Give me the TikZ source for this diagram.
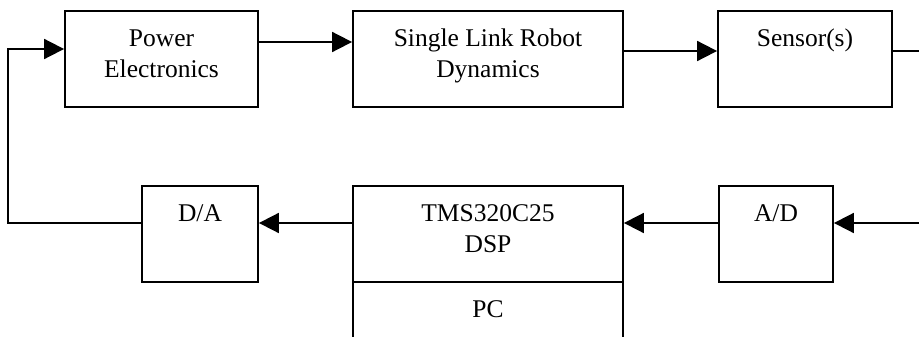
\documentclass[tikz,border=0pt]{standalone}
\usepackage{fontspec}
\setmainfont{Liberation Serif}
\usetikzlibrary{arrows.meta}
\newcommand{\txtlines}[1]{\begin{tabular}[t]{@{}c@{}}#1\end{tabular}}
\begin{document}
\begin{tikzpicture}[x=1pt,y=-1pt,
  blk/.style={draw, line width=1.8pt, minimum height=96pt, inner sep=0pt},
  lbl/.style={anchor=base, inner sep=0pt, font=\fontsize{25.5}{31}\selectfont},
  conn/.style={line width=1.8pt},
  arr/.style={conn, -{Triangle[length=20pt,width=20pt]}}]
\useasboundingbox (0,0) rectangle (919,337);
\clip (0,0) rectangle (919,337);
% blocks
\node[blk, minimum width=193pt] (pe) at (161.5,59) {};
\node[blk, minimum width=270pt] (robot) at (488,59) {};
\node[blk, minimum width=174pt] (sensor) at (805,59) {};
\node[blk, minimum width=116pt] (da) at (200,234) {};
\node[blk, minimum width=270pt] (tms) at (488,234) {};
\node[blk, minimum width=114pt] (ad) at (776,234) {};
\node[blk, minimum width=270pt] (pc) at (488,330) {};
% labels
\node[lbl] (pet) at ([yshift=-36pt]pe.north) {\txtlines{Power\\Electronics}};
\node[lbl] (robott) at ([yshift=-36pt]robot.north) {\txtlines{Single Link Robot\\Dynamics}};
\node[lbl] (sensort) at ([yshift=-36pt]sensor.north) {Sensor(s)};
\node[lbl] (dat) at ([yshift=-36pt]da.north) {D/A};
\node[lbl] (tmst) at ([yshift=-36pt]tms.north) {\txtlines{TMS320C25\\DSP}};
\node[lbl] (adt) at ([yshift=-36pt]ad.north) {A/D};
\node[lbl] (pct) at ([yshift=-36pt]pc.north) {PC};
% free ends
\coordinate (sout) at (919,51);
\coordinate (adin) at (919,223);
\coordinate (c1) at (8,223);
\coordinate (c2) at (8,49);
% connectors
\draw[arr] ([yshift=17pt]pe.east) -- ([yshift=17pt]robot.west);
\draw[arr] ([yshift=8pt]robot.east) -- ([yshift=8pt]sensor.west);
\draw[conn] ([yshift=8pt]sensor.east) -- (sout);
\draw[arr] (adin) -- ([yshift=11pt]ad.east);
\draw[arr] ([yshift=11pt]ad.west) -- ([yshift=11pt]tms.east);
\draw[arr] ([yshift=11pt]tms.west) -- ([yshift=11pt]da.east);
\draw[arr] ([yshift=11pt]da.west) -- (c1) -- (c2) -- ([yshift=10pt]pe.west);
\end{tikzpicture}
\end{document}
